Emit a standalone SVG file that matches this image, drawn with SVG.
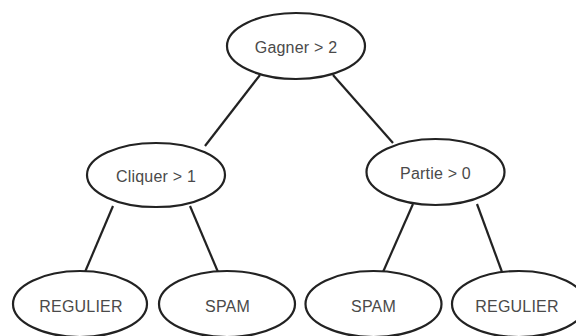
<svg xmlns="http://www.w3.org/2000/svg" width="576" height="336" viewBox="0 0 576 336">
<style>
.n{fill:#fff;stroke:#222;stroke-width:2.2}
.t{font-family:"Liberation Sans",Arial,sans-serif;font-size:16px;letter-spacing:0.2px;fill:#4a4a4a;text-anchor:middle}
.e{stroke:#222;stroke-width:2.2;fill:none}
</style>
<rect width="576" height="336" fill="#fff"/>
<g id="edges">
<line class="e" x1="260" y1="75" x2="205" y2="146"/>
<line class="e" x1="333" y1="75" x2="393" y2="143"/>
<line class="e" x1="113" y1="206" x2="85" y2="272"/>
<line class="e" x1="190" y1="206" x2="218" y2="272"/>
<line class="e" x1="413" y1="204" x2="383" y2="272"/>
<line class="e" x1="477" y1="204" x2="502" y2="272"/>
</g>
<g id="root"><ellipse class="n" cx="296" cy="46" rx="69" ry="33"/><text class="t" x="296" y="52.5">Gagner &gt; 2</text></g>
<g id="cliquer"><ellipse class="n" cx="156" cy="175" rx="69" ry="32"/><text class="t" x="156" y="181.5">Cliquer &gt; 1</text></g>
<g id="partie"><ellipse class="n" cx="435.5" cy="172" rx="69" ry="33"/><text class="t" x="435.5" y="178.5">Partie &gt; 0</text></g>
<g id="leaf1"><ellipse class="n" cx="80" cy="304" rx="67" ry="33"/><text class="t" x="81" y="311.5">REGULIER</text></g>
<g id="leaf2"><ellipse class="n" cx="227" cy="304" rx="68" ry="33"/><text class="t" x="227.5" y="311.5">SPAM</text></g>
<g id="leaf3"><ellipse class="n" cx="373.5" cy="304" rx="68" ry="33"/><text class="t" x="373.5" y="311.5">SPAM</text></g>
<g id="leaf4"><ellipse class="n" cx="519" cy="304" rx="67" ry="33"/><text class="t" x="517" y="311.5">REGULIER</text></g>
</svg>
